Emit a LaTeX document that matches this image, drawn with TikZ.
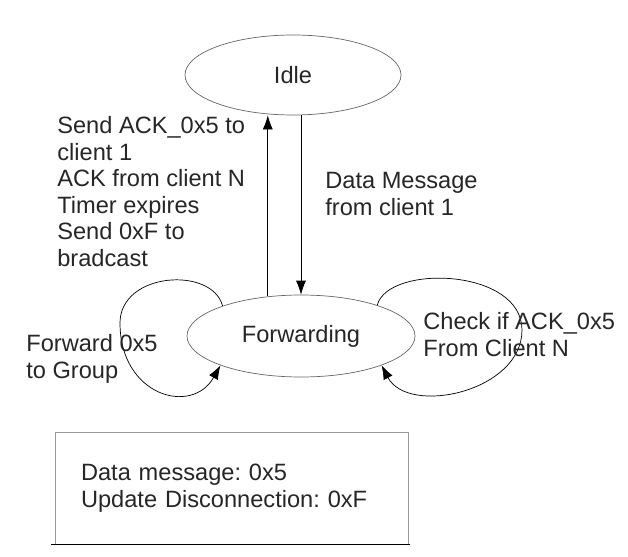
\documentclass[tikz,border=0pt]{standalone}
\usepackage{fontspec}
\setmainfont{Liberation Sans}
\usetikzlibrary{arrows.meta,shapes.geometric}
\frenchspacing

\begin{document}
\begin{tikzpicture}[>={Latex[length=3.5mm,width=2.5mm]},line width=0.5pt,
	font=\fontsize{16.8}{18.9}\selectfont,
	phase/.style={ellipse,draw=black!60,inner sep=0pt,text=black!85},
	note/.style={align=left,anchor=north west,inner sep=0pt,text=black!85}]

	\useasboundingbox (0,0) rectangle (15.7,13.9);

	\node [phase,minimum width=5.4cm,minimum height=2cm]	at (7.325,12.025)	(s_idle)	{Idle};
	\node [phase,minimum width=5.7cm,minimum height=2.05cm]	at (7.525,5.5)		(s_fwd)		{Forwarding};

	\coordinate (l_bend) at (3.0,5.825);
	\coordinate (r_bend) at (13.05,5.65);

	\draw [->] (s_fwd.130) -- (s_fwd.130 |- s_idle.south);
	\draw [->] (s_fwd.north |- s_idle.south) -- (s_fwd.north);
	\draw [->] (s_fwd.159) .. controls (5.3,7.25) and (3.0,7.1) .. (l_bend)
				.. controls (3.0,4.0) and (4.8,3.5) .. (s_fwd.200);
	\draw [->] (s_fwd.22) .. controls (9.7,7.3) and (13.05,7.2) .. (r_bend)
				.. controls (13.05,4.1) and (10.2,3.5) .. (s_fwd.-20);

	\node [note] at (1.425,11.0)	(l_back)	{Send ACK\_0x5 to\\client 1\\ACK from client N\\Timer expires\\Send 0xF to\\bradcast};
	\node [note] at (8.125,9.6)		(l_data)	{Data Message\\from client 1};
	\node [note] at (0.65,5.55)		(l_fwd)		{Forward 0x5\\to Group};
	\node [note] at (10.575,6.1)	(l_chk)		{Check if ACK\_0x5\\From Client N};

	% legend of message codes
	\node [draw=black!40,align=left,text width=7.525cm,inner xsep=0.65cm,inner ysep=0pt,minimum height=2.78cm,text=black!85]
		at (5.7875,1.69) (legend) {Data message: 0x5\\Update Disconnection: 0xF};
	\draw ([xshift=-0.08cm]legend.south west) -- ([xshift=0.05cm]legend.south east);

\end{tikzpicture}
\end{document}
